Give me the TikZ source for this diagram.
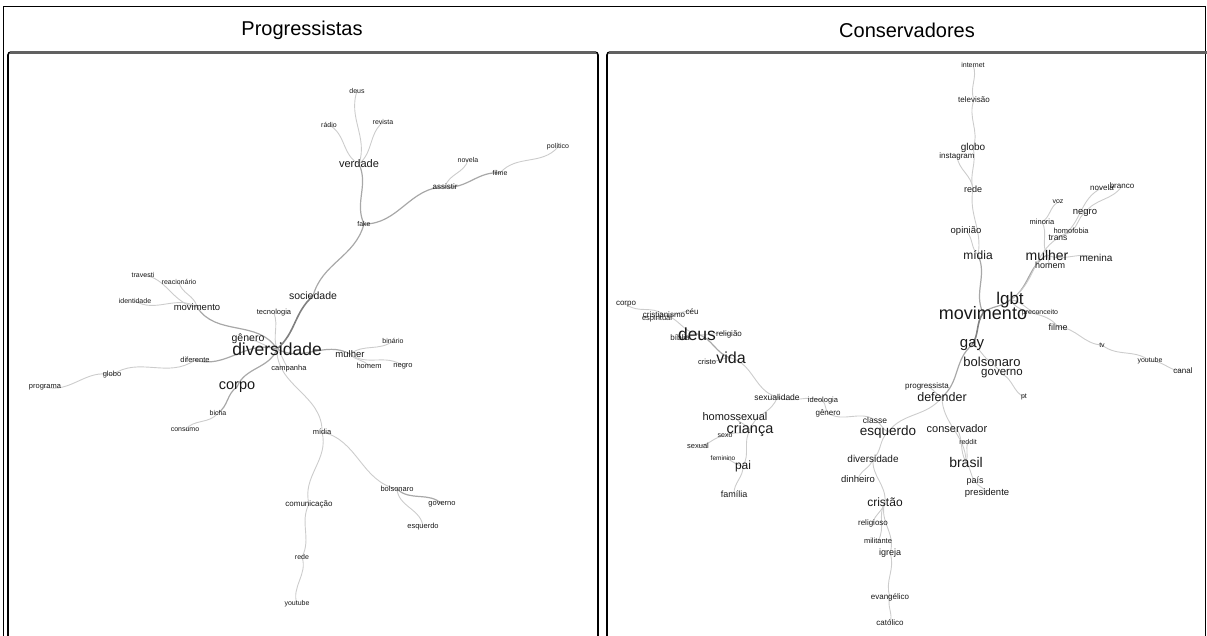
\documentclass[tikz,border=0pt]{standalone}
\usepackage{fontspec}
\setmainfont{Liberation Sans}
\pgfdeclarelayer{edges}
\pgfsetlayers{edges,main}
\begin{document}
\begin{tikzpicture}[x=1pt,y=-1pt,
  w/.style={font=\fontsize{#1}{#1}\selectfont, inner sep=0pt, text=black!90},
  ttl/.style={font=\fontsize{20}{20}\selectfont, inner sep=0pt, text=black},
  e1/.style={draw=black!20, line width=0.9pt},
  e2/.style={draw=black!34, line width=1.2pt},
  e3/.style={draw=black!50, line width=1.6pt},
  sc/.style={out=#1, in=180+#1, relative},
  frame/.style={draw=black, line width=1.6pt, rounded corners=3pt},
  topbar/.style={draw=black!62, line width=2.4pt}]
\clip (0,0) rectangle (1207,635);

% outer frame and panel boxes
\draw[black, line width=0.9pt] (3,6) rectangle (1205,660);
\draw[frame] (8,660) |- (598,52) -- (598,660);
\draw[frame] (607,660) |- (1225,52);
\draw[topbar] (10,52.3) -- (596,52.3);
\draw[topbar] (609,52.3) -- (1210,52.3);

% panel titles
\node[ttl] (tp) at (302,30) {Progressistas};
\node[ttl] (tc) at (907,30) {Conservadores};

% ---------------- Progressistas ----------------
\node[w=7]   (Lpol) at (558,147) {político};
\node[w=7]   (Lnov) at (468,160) {novela};
\node[w=7]   (Lfil) at (500,173) {filme};
\node[w=8]   (Lass) at (445,187) {assistir};
\node[w=7]   (Ldeu) at (357,91)  {deus};
\node[w=7]   (Lrad) at (329,125) {rádio};
\node[w=7]   (Lrev) at (383,122) {revista};
\node[w=11]  (Lver) at (359,164) {verdade};
\node[w=7]   (Lfak) at (364,224) {fake};
\node[w=10.5](Lsoc) at (313,296) {sociedade};
\node[w=7.5] (Ltec) at (274,313) {tecnologia};
\node[w=7]   (Ltra) at (143,275) {travesti};
\node[w=7]   (Lrea) at (179,282) {reacionário};
\node[w=7]   (Lide) at (135,301) {identidade};
\node[w=9.5] (Lmov) at (197,307) {movimento};
\node[w=10.5](Lgen) at (248,339) {gênero};
\node[w=17.5](Ldiv) at (277,349) {diversidade};
\node[w=9.5] (Lmul) at (350,354) {mulher};
\node[w=7]   (Lbin) at (393,341) {binário};
\node[w=7.5] (Lhom) at (369,366) {homem};
\node[w=7.5] (Lneg) at (403,366) {negro};
\node[w=7.5] (Lcam) at (289,369) {campanha};
\node[w=7.5] (Ldif) at (195,360) {diferente};
\node[w=7.5] (Lglo) at (112,375) {globo};
\node[w=7.5] (Lpro) at (45,387)  {programa};
\node[w=14.5](Lcor) at (237,387) {corpo};
\node[w=7]   (Lbic) at (218,413) {bicha};
\node[w=7]   (Lcon) at (185,430) {consumo};
\node[w=7.5] (Lmid) at (322,432) {mídia};
\node[w=7.5] (Lbol) at (397,489) {bolsonaro};
\node[w=7.5] (Lgov) at (442,504) {governo};
\node[w=7.5] (Lesq) at (423,527) {esquerdo};
\node[w=8]   (Lcom) at (309,504) {comunicação};
\node[w=7]   (Lred) at (302,557) {rede};
\node[w=7]   (Lyou) at (297,604) {youtube};

% ---------------- Conservadores ----------------
\node[w=7]   (Rint) at (973,65)  {internet};
\node[w=8]   (Rtel) at (974,100) {televisão};
\node[w=10]  (Rglo) at (973,148) {globo};
\node[w=8]   (Rins) at (957,156) {instagram};
\node[w=9]   (Rred) at (973,189) {rede};
\node[w=9.5] (Ropi) at (966,231) {opinião};
\node[w=12]  (Rmid) at (978,255) {mídia};
\node[w=8]   (Rnov) at (1102,188) {novela};
\node[w=8]   (Rbra) at (1122,186) {branco};
\node[w=7]   (Rvoz) at (1058,202) {voz};
\node[w=9.5] (Rneg) at (1085,213) {negro};
\node[w=7.5] (Rmin) at (1042,222) {minoria};
\node[w=7.5] (Rhof) at (1071,231) {homofobia};
\node[w=8.5] (Rtra) at (1058,238) {trans};
\node[w=14]  (Rmul) at (1047,255) {mulher};
\node[w=10]  (Rmen) at (1096,258) {menina};
\node[w=9]   (Rhom) at (1050,265) {homem};
\node[w=17]  (Rlgb) at (1010,300) {lgbt};
\node[w=18]  (Rmov) at (983,313) {movimento};
\node[w=7]   (Rprc) at (1040,313) {preconceito};
\node[w=9]   (Rfil) at (1058,327) {filme};
\node[w=7]   (Rtv)  at (1102,345) {tv};
\node[w=7]   (Ryou) at (1150,361) {youtube};
\node[w=8]   (Rcan) at (1183,371) {canal};
\node[w=15]  (Rgay) at (972,345) {gay};
\node[w=13]  (Rbol) at (992,362) {bolsonaro};
\node[w=11.5](Rgov) at (1002,374) {governo};
\node[w=7]   (Rpt)  at (1024,397) {pt};
\node[w=8]   (Rprg) at (927,386) {progressista};
\node[w=12.5](Rdef) at (942,397) {defender};
\node[w=8.5] (Rcla) at (875,420) {classe};
\node[w=13.5](Resq) at (888,432) {esquerdo};
\node[w=11]  (Rcns) at (957,429) {conservador};
\node[w=7]   (Rrdt) at (968,442) {reddit};
\node[w=10]  (Rdvs) at (873,459) {diversidade};
\node[w=9.5] (Rdin) at (858,479) {dinheiro};
\node[w=14]  (Rbrs) at (966,462) {brasil};
\node[w=9]   (Rpai) at (975,481) {país};
\node[w=9.5] (Rpsd) at (987,493) {presidente};
\node[w=12]  (Rcri) at (885,502) {cristão};
\node[w=8]   (Rrel) at (873,523) {religioso};
\node[w=7.5] (Rmil) at (878,541) {militante};
\node[w=9]   (Rigr) at (890,553) {igreja};
\node[w=8]   (Revg) at (890,597) {evangélico};
\node[w=8]   (Rcat) at (890,623) {católico};
\node[w=8]   (Rcor) at (626,304) {corpo};
\node[w=8]   (Rcrs) at (664,315) {cristianismo};
\node[w=8]   (Rceu) at (692,312) {céu};
\node[w=7.5] (Resp) at (657,319) {espiritual};
\node[w=8]   (Rbib) at (680,338) {bíblia};
\node[w=17.5](Rdeu) at (697,334) {deus};
\node[w=8]   (Rrlg) at (729,334) {religião};
\node[w=16]  (Rvid) at (731,358) {vida};
\node[w=7.5] (Rcrt) at (707,362) {cristo};
\node[w=8.5] (Rsex) at (777,397) {sexualidade};
\node[w=7.5] (Ride) at (823,401) {ideologia};
\node[w=8]   (Rgen) at (828,413) {gênero};
\node[w=11]  (Rhsx) at (735,417) {homossexual};
\node[w=14.5](Rcri2) at (750,430) {criança};
\node[w=7]   (Rsxo) at (725,436) {sexo};
\node[w=7.5] (Rsxl) at (698,446) {sexual};
\node[w=6.5] (Rfem) at (723,458) {feminino};
\node[w=12]  (Rpai2) at (743,466) {pai};
\node[w=9]   (Rfam) at (734,494) {família};

\begin{pgfonlayer}{edges}
% Progressistas connectors
\draw[e1] (Ldeu.center) to[sc=-20] (Lver.center);
\draw[e1] (Lrad.center) to[sc=25] (Lver.center);
\draw[e1] (Lrev.center) to[sc=-20] (Lver.center);
\draw[e2] (Lver.center) to[sc=20] (Lfak.center);
\draw[e2] (Lfak.center) to[sc=-25] (Lass.center);
\draw[e1] (Lass.center) to[sc=25] (Lnov.center);
\draw[e2] (Lass.center) to[sc=-20] (Lfil.center);
\draw[e1] (Lfil.center) to[sc=25] (Lpol.center);
\draw[e2] (Lfak.center) to[sc=20] (Lsoc.center);
\draw[e3] (Lsoc.center) to[sc=-15] (Ldiv.center);
\draw[e1] (Ltec.center) to[sc=15] (Ldiv.center);
\draw[e2] (Lmov.center) to[sc=-30] (Ldiv.center);
\draw[e1] (Ltra.center) to[sc=25] (Lmov.center);
\draw[e1] (Lrea.center) to[sc=-25] (Lmov.center);
\draw[e1] (Lide.center) to[sc=-25] (Lmov.center);
\draw[e1] (Lgen.center) to[sc=10] (Ldiv.center);
\draw[e2] (Ldif.center) to[sc=-25] (Ldiv.center);
\draw[e1] (Lglo.center) to[sc=25] (Ldif.center);
\draw[e1] (Lpro.center) to[sc=-25] (Lglo.center);
\draw[e2] (Lcor.center) to[sc=25] (Ldiv.center);
\draw[e2] (Lbic.center) to[sc=-20] (Lcor.center);
\draw[e1] (Lcon.center) to[sc=25] (Lbic.center);
\draw[e2] (Ldiv.center) to[sc=-25] (Lmul.center);
\draw[e1] (Lmul.center) to[sc=20] (Lbin.center);
\draw[e1] (Lmul.center) to[sc=-20] (Lhom.center);
\draw[e1] (Lmul.center) to[sc=-25] (Lneg.center);
\draw[e1] (Ldiv.center) to[sc=10] (Lcam.center);
\draw[e1] (Ldiv.center) to[sc=-30] (Lmid.center);
\draw[e1] (Lmid.center) to[sc=25] (Lcom.center);
\draw[e1] (Lcom.center) to[sc=-20] (Lred.center);
\draw[e1] (Lred.center) to[sc=25] (Lyou.center);
\draw[e1] (Lmid.center) to[sc=25] (Lbol.center);
\draw[e2] (Lbol.center) to[sc=-25] (Lgov.center);
\draw[e1] (Lbol.center) to[sc=-30] (Lesq.center);

% Conservadores connectors
\draw[e1] (Rint.center) to[sc=20] (Rtel.center);
\draw[e1] (Rtel.center) to[sc=-20] (Rglo.center);
\draw[e1] (Rglo.center) to[sc=15] (Rred.center);
\draw[e1] (Rins.center) to[sc=-20] (Rred.center);
\draw[e1] (Rred.center) to[sc=-15] (Rmid.center);
\draw[e1] (Ropi.center) to[sc=20] (Rmid.center);
\draw[e2] (Rmid.center) to[sc=20] (Rmov.center);
\draw[e2] (Rlgb.center) to[sc=15] (Rmov.center);
\draw[e2] (Rmul.center) to[sc=-20] (Rlgb.center);
\draw[e1] (Rmul.center) to[sc=20] (Rhom.center);
\draw[e1] (Rmul.center) to[sc=-20] (Rmen.center);
\draw[e1] (Rmul.center) to[sc=20] (Rmin.center);
\draw[e1] (Rmin.center) to[sc=-20] (Rvoz.center);
\draw[e1] (Rlgb.center) to[sc=-20] (Rtra.center);
\draw[e1] (Rtra.center) to[sc=20] (Rhof.center);
\draw[e1] (Rhof.center) to[sc=-20] (Rneg.center);
\draw[e1] (Rneg.center) to[sc=20] (Rbra.center);
\draw[e1] (Rtra.center) to[sc=-25] (Rnov.center);
\draw[e1] (Rlgb.center) to[sc=25] (Rprc.center);
\draw[e1] (Rlgb.center) to[sc=-25] (Rfil.center);
\draw[e1] (Rfil.center) to[sc=20] (Rtv.center);
\draw[e1] (Rtv.center) to[sc=-20] (Ryou.center);
\draw[e1] (Ryou.center) to[sc=20] (Rcan.center);
\draw[e3] (Rmov.center) to[sc=-15] (Rgay.center);
\draw[e1] (Rgay.center) to[sc=20] (Rbol.center);
\draw[e1] (Rbol.center) to[sc=-15] (Rgov.center);
\draw[e1] (Rgov.center) to[sc=20] (Rpt.center);
\draw[e2] (Rgay.center) to[sc=-20] (Rdef.center);
\draw[e1] (Rprg.center) to[sc=15] (Rdef.center);
\draw[e1] (Rdef.center) to[sc=20] (Resq.center);
\draw[e1] (Rdef.center) to[sc=-20] (Rbrs.center);
\draw[e1] (Rcns.center) to[sc=15] (Rbrs.center);
\draw[e1] (Rbrs.center) to[sc=-15] (Rrdt.center);
\draw[e1] (Rbrs.center) to[sc=15] (Rpai.center);
\draw[e1] (Rpai.center) to[sc=-20] (Rpsd.center);
\draw[e1] (Resq.center) to[sc=15] (Rcla.center);
\draw[e1] (Rgen.center) to[sc=-25] (Rcla.center);
\draw[e1] (Ride.center) to[sc=15] (Rgen.center);
\draw[e1] (Rsex.center) to[sc=-20] (Ride.center);
\draw[e1] (Rvid.center) to[sc=25] (Rsex.center);
\draw[e1] (Rsex.center) to[sc=25] (Rcri2.center);
\draw[e1] (Rcri2.center) to[sc=-20] (Rhsx.center);
\draw[e1] (Rcri2.center) to[sc=20] (Rsxo.center);
\draw[e1] (Rsxo.center) to[sc=-20] (Rsxl.center);
\draw[e1] (Rcri2.center) to[sc=-20] (Rpai2.center);
\draw[e1] (Rpai2.center) to[sc=20] (Rfem.center);
\draw[e1] (Rpai2.center) to[sc=20] (Rfam.center);
\draw[e2] (Rdeu.center) to[sc=20] (Rvid.center);
\draw[e1] (Rdeu.center) to[sc=-15] (Rrlg.center);
\draw[e1] (Rdeu.center) to[sc=20] (Rcrs.center);
\draw[e1] (Rcrs.center) to[sc=-25] (Rcor.center);
\draw[e1] (Rcrs.center) to[sc=15] (Resp.center);
\draw[e1] (Rcrs.center) to[sc=-20] (Rceu.center);
\draw[e1] (Rdeu.center) to[sc=15] (Rbib.center);
\draw[e1] (Rvid.center) to[sc=-15] (Rcrt.center);
\draw[e1] (Resq.center) to[sc=-20] (Rdvs.center);
\draw[e1] (Rdvs.center) to[sc=20] (Rdin.center);
\draw[e1] (Rdvs.center) to[sc=-20] (Rcri.center);
\draw[e1] (Rcri.center) to[sc=20] (Rrel.center);
\draw[e1] (Rcri.center) to[sc=-20] (Rmil.center);
\draw[e1] (Rcri.center) to[sc=-25] (Rigr.center);
\draw[e1] (Rigr.center) to[sc=20] (Revg.center);
\draw[e1] (Revg.center) to[sc=-20] (Rcat.center);
\end{pgfonlayer}
\end{tikzpicture}
\end{document}
